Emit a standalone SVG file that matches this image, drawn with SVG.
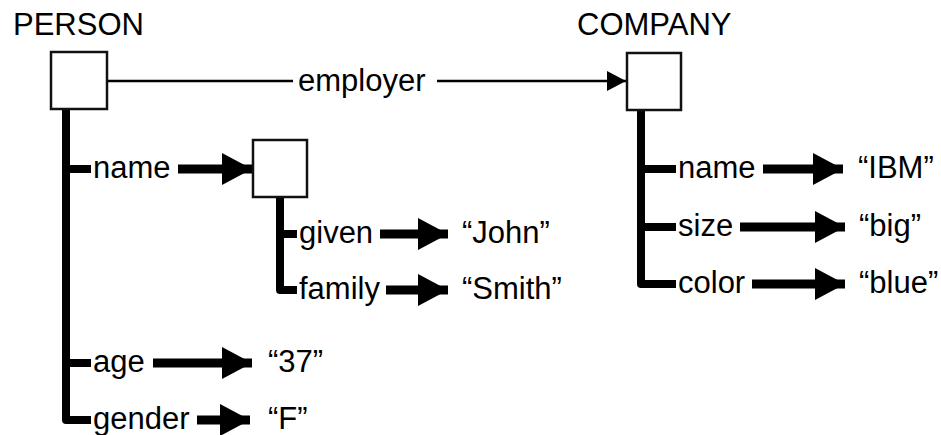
<svg xmlns="http://www.w3.org/2000/svg" width="941" height="435" viewBox="0 0 941 435">
  <defs>
    <style>
      text { font-family: "Liberation Sans", Arial, sans-serif; fill: #000; }
      .title { font-size: 31px; }
      .label { font-size: 31px; }
      .value { font-size: 31px; }
      .box { fill: #fff; stroke: #111; stroke-width: 2.5; }
      .trunk { fill: none; stroke: #000; stroke-width: 8; stroke-linejoin: round; stroke-linecap: butt; }
      .arrow { stroke: #000; stroke-width: 9; marker-end: url(#headBig); }
      .thin { stroke: #000; stroke-width: 2.5; fill: none; }
    </style>
    <marker id="headBig" markerUnits="userSpaceOnUse" markerWidth="31" markerHeight="32" refX="30" refY="16" orient="auto" viewBox="0 0 31 32">
      <path d="M0,0 L30,16 L0,32 Z" fill="#000"/>
    </marker>
    <marker id="headSmall" markerUnits="userSpaceOnUse" markerWidth="19" markerHeight="20" refX="19" refY="10" orient="auto" viewBox="0 0 19 20">
      <path d="M0,0 L19,10 L0,20 Z" fill="#000"/>
    </marker>
  </defs>

  <!-- tree branches and arrows -->
  <g id="connectors">
    <!-- PERSON spine -->
    <path class="trunk" d="M66,109 V420 H91"/>
    <path class="trunk" d="M66,169 H91"/>
    <path class="trunk" d="M66,363 H91"/>
    <!-- name sub-object spine -->
    <path class="trunk" d="M280,197 V290 H297"/>
    <path class="trunk" d="M280,234 H297"/>
    <!-- COMPANY spine -->
    <path class="trunk" d="M641,110 V284 H676"/>
    <path class="trunk" d="M641,169 H676"/>
    <path class="trunk" d="M641,227 H676"/>

    <!-- employer link -->
    <line class="thin" x1="107" y1="81" x2="293" y2="81"/>
    <line class="thin" x1="437" y1="81" x2="626" y2="81" marker-end="url(#headSmall)"/>

    <!-- PERSON attributes -->
    <line class="arrow" x1="178" y1="169" x2="252" y2="169"/>
    <line class="arrow" x1="153" y1="363" x2="252" y2="363"/>
    <line class="arrow" x1="197" y1="420" x2="250" y2="420"/>
    <!-- name attributes -->
    <line class="arrow" x1="380" y1="234" x2="448" y2="234"/>
    <line class="arrow" x1="386" y1="290" x2="448" y2="290"/>
    <!-- COMPANY attributes -->
    <line class="arrow" x1="763" y1="169" x2="843" y2="169"/>
    <line class="arrow" x1="740" y1="227" x2="845" y2="227"/>
    <line class="arrow" x1="752" y1="284" x2="845" y2="284"/>
  </g>

  <g id="person">
    <text class="title" x="13" y="35">PERSON</text>
    <rect class="box" x="51" y="52" width="56" height="57"/>
  </g>

  <g id="company">
    <text class="title" x="577" y="35">COMPANY</text>
    <rect class="box" x="627" y="53" width="54" height="57"/>
  </g>

  <g id="name-object">
    <rect class="box" x="253" y="140" width="54" height="57"/>
  </g>

  <g id="edge-labels">
    <text class="label" x="298" y="91">employer</text>
    <text class="label" x="93" y="178">name</text>
    <text class="label" x="93" y="372">age</text>
    <text class="label" x="93" y="429">gender</text>
    <text class="label" x="299" y="243">given</text>
    <text class="label" x="299" y="299">family</text>
    <text class="label" x="678" y="178">name</text>
    <text class="label" x="678" y="236">size</text>
    <text class="label" x="678" y="293">color</text>
  </g>

  <g id="values">
    <text class="value" x="462" y="243">“John”</text>
    <text class="value" x="462" y="299">“Smith”</text>
    <text class="value" x="268" y="372">“37”</text>
    <text class="value" x="268" y="429">“F”</text>
    <text class="value" x="858" y="178">“IBM”</text>
    <text class="value" x="859" y="236">“big”</text>
    <text class="value" x="859" y="293">“blue”</text>
  </g>
</svg>
